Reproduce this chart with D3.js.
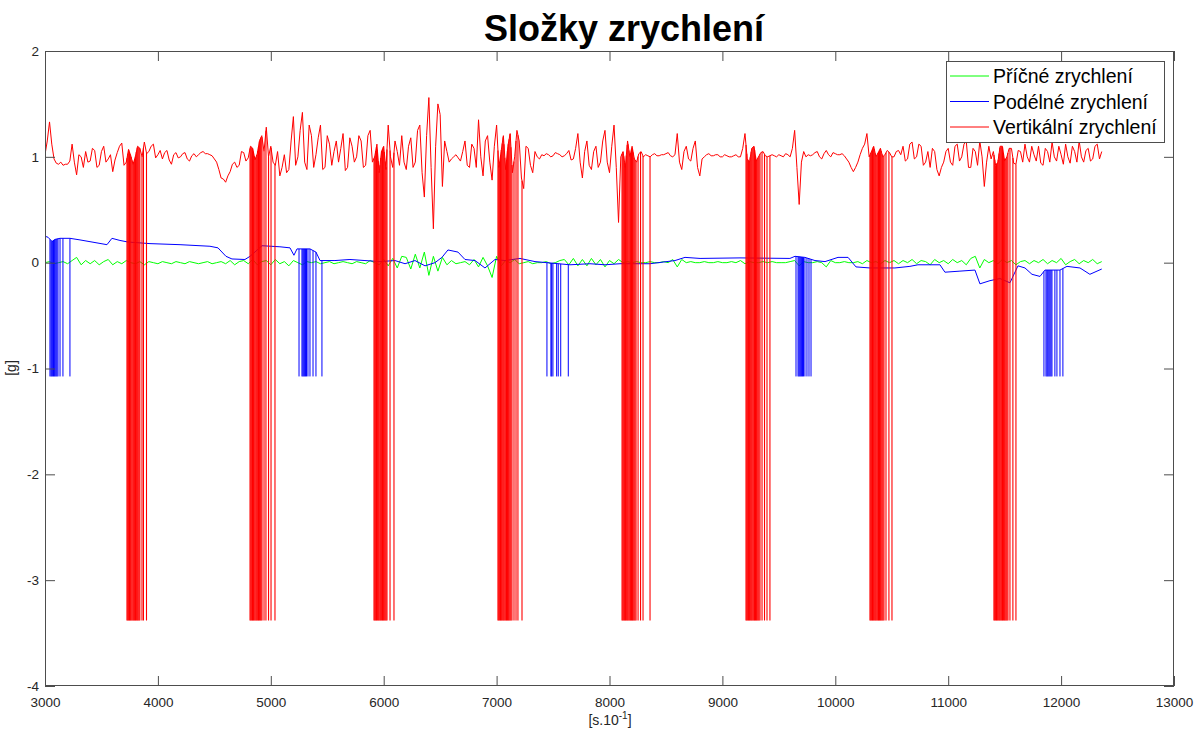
<!DOCTYPE html>
<html><head><meta charset="utf-8">
<script src="https://cdn.jsdelivr.net/npm/d3@7/dist/d3.min.js"></script>
<style>
html,body{margin:0;padding:0;background:#fff;}
svg{display:block;font-family:"Liberation Sans",Arial,Helvetica,sans-serif;}
</style></head>
<body>
<svg id="chart" width="1196" height="731"></svg>
<script>
// ---------- DATA ----------
const title = "Složky zrychlení";
const seriesNames = ["Příčné zrychlení", "Podélné zrychlení", "Vertikální zrychlení"];
const xTicks = [3000,4000,5000,6000,7000,8000,9000,10000,11000,12000,13000];
const yTicks = [-4,-3,-2,-1,0,1,2];
const sampleStart = 3000;
const redStep = 20, greenStep = 40;

// Vertical acceleration (red), sampled every 20 units from 3000
const redValues = [
 1.02,1.15,1.33,1.12,0.98,0.94,0.93,0.95,0.92,0.93,0.93,0.96,1.12,0.95,0.83,1.02,1.0,0.9,1.05,0.95,
 0.96,1.08,1.06,0.9,0.92,1.05,1.1,0.95,0.98,1.02,0.86,0.97,1.04,1.1,1.13,0.92,0.95,1.07,1.01,0.93,
 1.0,1.1,1.08,1.0,1.14,1.03,1.05,1.1,1.12,0.99,1.02,1.06,0.98,1.04,1.06,0.97,0.93,1.02,1.04,0.99,
 1.0,1.03,1.04,0.98,0.96,1.01,1.03,1.0,1.02,1.04,1.05,1.03,1.03,1.02,1.01,0.98,0.95,0.88,0.8,0.79,
 0.76,0.82,0.86,0.93,0.95,0.9,0.92,1.05,1.04,0.96,0.99,1.1,1.08,0.97,1.03,1.15,1.2,1.05,1.28,1.0,
 1.1,0.95,0.92,1.05,0.82,0.9,1.02,0.85,0.88,1.15,1.38,0.92,1.0,1.25,1.42,0.95,0.88,1.3,1.2,0.9,
 1.02,1.18,1.3,0.88,0.9,1.2,1.12,0.92,1.05,1.15,0.95,1.08,1.22,0.87,0.9,1.18,1.1,0.95,1.0,1.2,
 1.15,0.9,0.92,1.2,1.25,0.95,1.0,1.12,0.85,1.05,1.1,0.88,1.3,1.0,0.9,1.15,1.05,0.92,1.2,0.95,
 0.88,1.1,1.18,0.9,0.95,1.25,1.3,0.85,0.62,1.2,1.56,0.9,0.32,1.1,1.5,1.4,0.72,1.15,1.05,0.95,
 0.98,1.0,1.02,0.99,0.96,1.05,1.15,0.92,0.9,1.12,1.08,0.9,1.35,1.0,0.82,1.15,1.2,0.95,0.78,1.1,
 1.3,0.9,1.05,1.2,0.88,1.1,1.22,0.85,1.0,1.25,1.15,0.8,0.7,1.1,1.08,0.92,0.85,1.05,1.0,0.98,
 1.02,1.01,1.03,1.02,1.0,1.01,1.04,1.03,1.02,1.0,1.01,1.03,1.06,0.97,0.98,1.08,1.22,0.95,0.8,1.05,
 1.15,0.92,0.88,1.05,1.1,0.9,0.95,1.15,1.25,0.95,0.85,1.1,1.3,0.9,0.38,1.0,1.05,0.9,1.15,1.0,
 1.1,0.98,0.95,1.03,1.05,1.0,1.02,1.01,1.0,1.02,1.03,1.01,1.01,1.02,1.02,1.03,1.04,1.01,1.0,1.02,
 1.22,0.95,0.88,1.05,1.1,0.98,0.96,1.08,1.15,0.9,0.82,0.98,1.0,1.02,1.03,1.01,1.01,1.02,1.02,1.0,
 1.0,1.02,1.01,1.0,1.0,1.01,1.02,1.0,1.0,1.08,1.22,0.98,0.95,1.08,1.1,0.96,1.0,1.04,1.05,1.01,
 1.0,1.01,1.02,1.01,1.0,1.02,1.01,1.0,1.03,1.02,1.0,1.08,1.25,0.9,0.55,0.95,1.05,1.0,1.02,1.01,
 1.02,1.04,1.05,1.0,0.98,1.03,1.06,1.02,1.0,1.04,1.03,1.02,1.02,1.03,1.01,0.98,0.95,0.9,0.86,0.9,
 0.95,1.02,1.08,1.12,1.22,1.0,1.05,1.1,1.0,1.04,1.08,1.0,1.02,1.06,1.04,1.0,1.0,1.05,1.06,1.02,
 1.1,0.96,0.98,1.12,1.14,0.98,1.0,1.12,1.1,0.92,0.95,1.05,0.9,1.08,1.05,0.88,0.82,0.9,0.95,1.05,
 1.08,0.95,0.92,1.1,1.12,0.96,1.0,1.12,1.15,0.9,0.9,1.08,1.05,0.92,1.15,1.0,0.72,0.95,1.1,0.98,
 1.05,0.92,0.95,1.1,1.1,0.96,1.0,1.08,1.08,0.94,0.93,1.06,1.05,0.95,1.12,1.0,0.95,1.1,1.02,0.96,
 1.1,0.94,0.92,1.08,1.05,0.95,1.14,1.0,0.96,1.1,1.02,0.93,1.12,1.0,0.94,1.1,1.05,0.95,1.15,1.0,
 0.95,1.06,1.08,0.96,0.98,1.1,1.12,0.98,1.05
];

// Lateral acceleration (green), sampled every 40 units from 3000
const greenValues = [
 0,0.01,-0.01,0.0,0.01,-0.01,0.02,0.05,-0.02,0.02,
 -0.01,0.02,-0.02,0.01,0.03,-0.02,0.01,-0.01,0.02,0.0,
 -0.01,0.01,-0.02,0.01,0.0,-0.01,0.01,0.0,-0.01,0.01,
 0.0,-0.01,0.01,0.0,-0.01,0.0,0.01,-0.01,0.0,0.01,
 -0.01,0.02,-0.02,0.01,0.02,-0.01,0.03,-0.02,0.01,0.02,
 -0.02,0.03,-0.01,0.01,-0.03,0.02,0.0,-0.02,0.01,0.0,
 0.01,-0.01,0.0,0.01,-0.01,0.0,0.01,0.0,-0.01,0.01,
 0.0,-0.01,0.02,0.0,-0.02,0.03,-0.03,0.04,-0.05,0.06,
 0.05,-0.06,0.08,-0.05,0.1,-0.12,0.06,-0.08,0.05,-0.02,
 0.02,-0.01,0.0,0.01,-0.02,0.03,-0.04,0.05,-0.03,-0.14,
 0.06,-0.03,0.02,0.0,0.03,-0.01,0.0,0.01,-0.01,0.0,
 0.0,0.01,-0.01,0.0,0.02,0.03,-0.02,0.04,-0.03,0.03,
 -0.03,0.04,-0.02,0.03,-0.04,0.02,-0.01,0.03,0.0,0.01,
 0.0,0.01,0.0,0.0,0.01,0.0,0.0,0.01,0.0,0.03,
 -0.04,0.03,0.0,0.01,0.0,0.0,0.01,0.0,0.0,0.01,
 0.0,0.0,0.01,0.0,0.02,-0.01,0.01,0.0,0.0,0.01,
 0.0,0.01,0.0,0.0,0.0,0.01,0.02,-0.03,0.01,0.0,
 0.0,0.01,0.0,-0.04,0.02,0.0,0.0,0.01,0.0,0.0,
 0.01,-0.01,0.02,0.0,0.01,-0.01,0.02,0.0,0.02,-0.01,
 0.02,0.0,0.03,-0.01,0.02,0.01,-0.02,0.03,0.0,0.02,
 -0.01,0.03,0.0,0.02,-0.02,0.04,0.06,-0.05,0.03,0.0,
 0.02,-0.01,0.03,0.0,0.02,-0.02,0.01,0.02,-0.01,0.02,
 0.0,0.03,-0.01,0.02,0.0,0.04,-0.02,0.01,0.03,-0.01,
 0.02,0.0,0.03,-0.01,0.01
];

// Longitudinal acceleration (blue), slowly varying
const blueX = [3000,3027,3062,3089,3133,3221,3310,3443,3549,3593,3664,3735,3930,4196,4461,4532,4603,4656,4771,4816,4922,5081,5170,5205,5232,5347,5400,5436,5568,5701,5834,5967,6100,6189,6277,6366,6454,6516,6569,6658,6720,6809,6897,6986,7074,7207,7340,7446,7650,7827,7960,8093,8359,8580,8669,8802,9156,9598,9643,9731,9820,9909,10024,10113,10183,10307,10528,10661,10732,10927,10971,11104,11237,11281,11370,11458,11547,11618,11680,11742,11813,11857,11990,12052,12167,12255,12360];
const blueV = [0.25,0.24,0.20,0.22,0.23,0.23,0.215,0.19,0.17,0.23,0.21,0.195,0.18,0.17,0.155,0.14,0.06,0.035,0.03,0.06,0.16,0.15,0.14,0.07,0.13,0.13,0.1,0.02,0.02,0.03,0.02,0.01,0.02,-0.01,0.02,-0.03,0.0,0.05,0.12,0.1,0.03,0.02,-0.05,0.03,0.02,0.04,0.01,0.0,-0.02,-0.01,-0.02,-0.01,-0.01,0.02,0.05,0.04,0.045,0.04,0.06,0.05,0.02,0.01,0.05,0.05,-0.04,-0.05,-0.05,-0.035,-0.02,-0.02,-0.09,-0.08,-0.07,-0.2,-0.17,-0.15,-0.19,-0.03,-0.05,-0.11,-0.13,-0.07,-0.07,-0.035,-0.05,-0.11,-0.06];

// Sensor drop-outs
const redDropLevel = -3.38;
const redDropX = [
 3726,3733,3741,3748,3756,3763,3771,3779,3786,3794,3801,3809,3817,3824,3832,3840,3859,3872,3899,
 4816,4823,4831,4838,4846,4853,4861,4869,4876,4884,4891,4899,4907,4914,4922,4940,4957,4980,5002,5037,
 5914,5921,5929,5936,5944,5952,5959,5967,5974,5982,5990,5997,6005,6013,6021,6029,6056,6091,
 7012,7019,7027,7035,7042,7050,7058,7065,7073,7081,7088,7096,7104,7111,7119,7127,7136,7154,7172,7189,7225,
 8111,8118,8126,8134,8141,8149,8157,8164,8172,8180,8187,8195,8203,8210,8218,8226,8235,8253,8275,8297,8359,
 9209,9216,9224,9232,9239,9247,9255,9262,9270,9278,9285,9293,9301,9308,9316,9324,9333,9351,9373,9395,9421,
 10307,10314,10322,10330,10337,10345,10353,10360,10368,10376,10383,10391,10399,10406,10414,10422,10431,10449,10475,10502,
 11405,11412,11420,11428,11435,11443,11451,11458,11466,11474,11481,11489,11497,11504,11512,11520,11529,11547,11573,11600
];
const blueDropLevel = -1.075;
const blueDropX = [
 3044,3053,3060,3068,3075,3083,3090,3098,3106,3115,3133,3159,3221,
 5250,5276,5284,5292,5300,5308,5316,5329,5347,5374,5400,5453,
 7446,7481,7488,7499,7532,7546,7568,7635,
 9652,9670,9678,9686,9694,9702,9710,9718,9731,9749,9767,9785,
 11848,11866,11875,11883,11892,11901,11910,11919,11945,11963,11990,12016
];

const colors = {green:"#00ff00", blue:"#0000ff", red:"#ff0000"};

// ---------- CHART ----------
const svg = d3.select("#chart");
const L = 45, R = 1174, T = 51, B = 686;
const x = d3.scaleLinear().domain([3000,13000]).range([L,R]);
const y = d3.scaleLinear().domain([-4,2]).range([B,T]);
const axisColor = "#4d4d4d", textColor = "#262626";

svg.append("rect").attr("width",1196).attr("height",731).attr("fill","#fff");

const plot = svg.append("g");
svg.append("clipPath").attr("id","clip").append("rect")
  .attr("x",L).attr("y",T).attr("width",R-L).attr("height",B-T);
plot.attr("clip-path","url(#clip)");

const line = d3.line().x(d=>x(d[0])).y(d=>y(d[1]));
const greenData = greenValues.map((v,i)=>[sampleStart+i*greenStep, v]);
const redData = redValues.map((v,i)=>[sampleStart+i*redStep, v]);
const blueData = blueX.map((xx,i)=>[xx, blueV[i]]);

const valueAt = (data, xx) => {
  const i = d3.bisector(d=>d[0]).right(data, xx);
  const a = data[Math.max(0,i-1)], b = data[Math.min(data.length-1,i)];
  if (a[0]===b[0]) return a[1];
  return a[1] + (b[1]-a[1])*(xx-a[0])/(b[0]-a[0]);
};

// green
plot.append("path").datum(greenData).attr("d",line)
  .attr("fill","none").attr("stroke",colors.green).attr("stroke-width",1);

// blue
plot.append("path").datum(blueData).attr("d",line)
  .attr("fill","none").attr("stroke",colors.blue).attr("stroke-width",1);
plot.append("g").selectAll("path").data(blueDropX).join("path")
  .attr("d", xx => line([[xx, valueAt(blueData, xx)], [xx, blueDropLevel]]))
  .attr("fill","none").attr("stroke",colors.blue).attr("stroke-width",1);

// red
plot.append("path").datum(redData).attr("d",line)
  .attr("fill","none").attr("stroke",colors.red).attr("stroke-width",1);
plot.append("g").selectAll("path").data(redDropX).join("path")
  .attr("d", xx => line([[xx, valueAt(redData, xx)], [xx, redDropLevel]]))
  .attr("fill","none").attr("stroke",colors.red).attr("stroke-width",1.1);

// axes
const styleAxis = g => {
  g.selectAll(".domain").remove();
  g.selectAll("line").attr("stroke",axisColor);
  g.selectAll("text").attr("fill",textColor).style("font-size","13.5px")
   .style("font-family",'"Liberation Sans",Arial,sans-serif');
};
const fmt = d => String(d);
svg.append("g").attr("transform",`translate(0,${B})`)
  .call(d3.axisBottom(x).tickValues(xTicks).tickFormat(fmt).tickSize(-10).tickPadding(11))
  .call(styleAxis);
svg.append("g").attr("transform",`translate(0,${T})`)
  .call(d3.axisTop(x).tickValues(xTicks).tickFormat("").tickSize(-10)).call(styleAxis);
svg.append("g").attr("transform",`translate(${L},0)`)
  .call(d3.axisLeft(y).tickValues(yTicks).tickFormat(fmt).tickSize(-10).tickPadding(6))
  .call(styleAxis);
svg.append("g").attr("transform",`translate(${R},0)`)
  .call(d3.axisRight(y).tickValues(yTicks).tickFormat("").tickSize(-10)).call(styleAxis);
// frame
svg.append("rect").attr("x",L+0.5).attr("y",T+0.5).attr("width",R-L-1).attr("height",B-T-1)
  .attr("fill","none").attr("stroke",axisColor).attr("stroke-width",1);

// title
svg.append("text").attr("x",624).attr("y",41).attr("text-anchor","middle")
  .style("font-size","36px").style("font-weight","bold").attr("fill","#000").text(title);

// axis labels
const xl = svg.append("text").attr("x",610).attr("y",725).attr("text-anchor","middle")
  .style("font-size","14px").attr("fill",textColor);
xl.append("tspan").text("[s.10");
xl.append("tspan").attr("dy",-6).style("font-size","10px").text("-1");
xl.append("tspan").attr("dy",6).text("]");
svg.append("text").attr("transform","translate(16,368) rotate(-90)").attr("text-anchor","middle")
  .style("font-size","14px").attr("fill",textColor).text("[g]");

// legend
const lg = svg.append("g").attr("transform","translate(946,61)");
lg.append("rect").attr("x",0.5).attr("y",0.5).attr("width",218).attr("height",81)
  .attr("fill","#fff").attr("stroke",axisColor);
const legColors = [colors.green, colors.blue, colors.red];
seriesNames.forEach((name,i)=>{
  const yy = 15 + i*25.5;
  lg.append("line").attr("x1",4).attr("x2",43).attr("y1",yy).attr("y2",yy)
    .attr("stroke",legColors[i]).attr("stroke-width",1);
  lg.append("text").attr("x",47).attr("y",yy+7).style("font-size","19.5px")
    .attr("fill","#000").text(name);
});
</script>
</body></html>
